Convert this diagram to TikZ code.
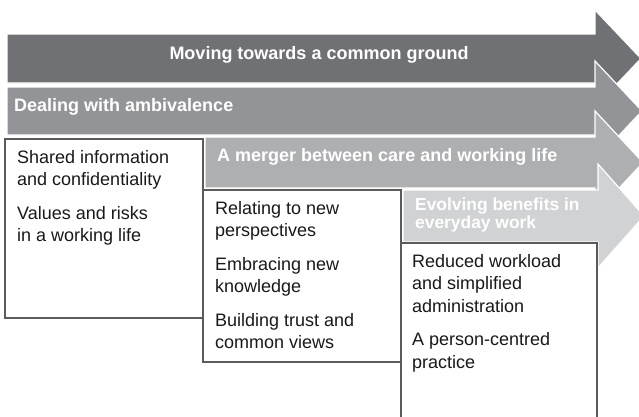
\documentclass[tikz,border=0pt]{standalone}
\usepackage{fontspec}
\setmainfont{Liberation Sans}
\definecolor{toneA}{HTML}{707174}
\definecolor{toneB}{HTML}{939497}
\definecolor{toneC}{HTML}{AEAFB1}
\definecolor{toneD}{HTML}{D1D2D4}
\definecolor{rim}{HTML}{5A5A5A}
\tikzset{
  band/.style={draw=white, line width=1.2pt, line join=miter},
  boxframe/.style={draw=rim, fill=white, line width=1.3pt},
  bandtext/.style={text=white, font=\fontsize{18}{16}\selectfont\bfseries, inner sep=0pt},
  smallband/.style={text=white, font=\fontsize{17.4}{16}\selectfont\bfseries, inner sep=0pt},
  boxtext/.style={font=\fontsize{18}{22.5}\selectfont, align=left, inner sep=0pt, anchor=north west, text=black!90}
}
\begin{document}
\begin{tikzpicture}[x=1pt, y=-1pt]
\useasboundingbox (0,0) rectangle (639,416);
\clip (0,0) rectangle (639,416);
\fill[white] (0,0) rectangle (639,416);

% stage 1
\path[band, fill=toneA] (7,34) -- (595,34) -- (595,10) -- (641,58.5) -- (595,107) -- (595,83) -- (7,83) -- cycle;
\node[bandtext, anchor=base] (t1) at (319,59.5) {Moving towards a common ground};

% stage 2
\path[band, fill=toneB] (7,87) -- (595,87) -- (595,61) -- (642,111) -- (595,161) -- (595,135) -- (7,135) -- cycle;
\node[bandtext, anchor=base west] (t2) at (14,111) {Dealing with ambivalence};

% box below stage 2
\draw[boxframe] (5,139) rectangle (203,318);
\node[boxtext] (b1) at (17,147.25) {\strut Shared information\\and confidentiality\\[11pt]Values and risks\\in a working life};

% stage 3
\path[band, fill=toneC] (205,137) -- (595,137) -- (595,111) -- (643,162.5) -- (595,214) -- (595,188) -- (205,188) -- cycle;
\node[bandtext, anchor=base west] (t3) at (217,161.5) {A merger between care and working life};

% stage 4 (two-line label)
\path[band, fill=toneD] (403,190) -- (598,190) -- (598,164) -- (644,216) -- (598,268) -- (598,242) -- (403,242) -- cycle;
\node[smallband, anchor=base west] (t4) at (415,210.5) {Evolving benefits in};
\node[smallband, anchor=base west] (t5) at (415,228) {everyday work};

% box below stage 3
\draw[boxframe] (203,190) rectangle (401,362);
\node[boxtext] (b2) at (215,198.25) {\strut Relating to new\\perspectives\\[11pt]Embracing new\\knowledge\\[11pt]Building trust and\\common views};

% box below stage 4
\draw[boxframe] (401,243) rectangle (597,430);
\node[boxtext] (b3) at (412,251.25) {\strut Reduced workload\\and simplified\\administration\\[11pt]A person-centred\\practice};
\end{tikzpicture}
\end{document}
